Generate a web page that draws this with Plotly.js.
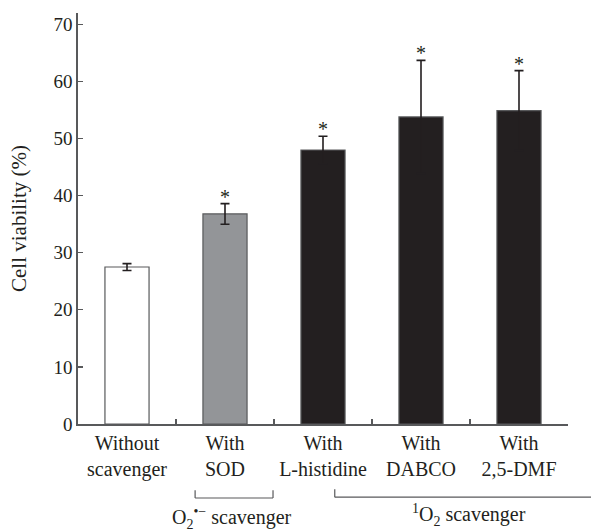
<!DOCTYPE html>
<html>
<head>
<meta charset="utf-8">
<script src="https://cdn.plot.ly/plotly-3.0.1.min.js"></script>
<style>html,body{margin:0;padding:0;background:#fff;}#chart{width:591px;height:531px;}</style>
</head>
<body>
<div id="chart"></div>
<script>
const categories = ["Without<br>scavenger", "With<br>SOD", "With<br>L-histidine", "With<br>DABCO", "With<br>2,5-DMF"];
const viability = [27.5, 36.8, 48.0, 53.8, 54.9];
const errors = [0.6, 1.8, 2.4, 9.9, 7.0];
const barColors = ["#ffffff", "#939598", "#231f20", "#231f20", "#231f20"];
const significant = ["", "*", "*", "*", "*"];
const groupLabels = ["O<sub>2</sub><sup>•−</sup> scavenger", "<sup>1</sup>O<sub>2</sub> scavenger"];

const serif = "Liberation Serif, Times New Roman, serif";
const ink = "#231f20";
const axisGray = "#58595b";

const trace = {
  type: "bar",
  x: categories,
  y: viability,
  width: 0.45,
  marker: { color: barColors, line: { color: axisGray, width: 1.2 } },
  error_y: { type: "data", array: errors, visible: true, color: ink, thickness: 1.6, width: 4.5 },
  hoverinfo: "none"
};

const annotations = [];
categories.forEach((c, i) => {
  if (significant[i]) {
    annotations.push({
      x: c, y: viability[i] + errors[i], xref: "x", yref: "y",
      text: significant[i], showarrow: false, yanchor: "bottom", yshift: -6,
      font: { family: serif, size: 20, color: ink }
    });
  }
});

annotations.push({
  x: 0.315, y: -0.229, xref: "paper", yref: "paper", yanchor: "middle", xanchor: "center",
  text: groupLabels[0], showarrow: false,
  font: { family: serif, size: 20, color: ink }
});
annotations.push({
  x: 0.798, y: -0.221, xref: "paper", yref: "paper", yanchor: "middle", xanchor: "center",
  text: groupLabels[1], showarrow: false,
  font: { family: serif, size: 20, color: ink }
});

const lineStyle = { color: axisGray, width: 1.2 };
const shapes = [
  { type: "line", xref: "paper", yref: "paper", x0: 0.239, x1: 0.398, y0: -0.180, y1: -0.180, line: lineStyle },
  { type: "line", xref: "paper", yref: "paper", x0: 0.239, x1: 0.239, y0: -0.180, y1: -0.161, line: lineStyle },
  { type: "line", xref: "paper", yref: "paper", x0: 0.398, x1: 0.398, y0: -0.180, y1: -0.161, line: lineStyle },
  { type: "line", xref: "paper", yref: "paper", x0: 0.524, x1: 1.05, y0: -0.178, y1: -0.178, line: lineStyle },
  { type: "line", xref: "paper", yref: "paper", x0: 0.524, x1: 0.524, y0: -0.178, y1: -0.159, line: lineStyle }
];

const layout = {
  width: 591, height: 531,
  margin: { l: 78, r: 23, t: 13, b: 107 },
  paper_bgcolor: "#fff", plot_bgcolor: "#fff",
  showlegend: false,
  font: { family: serif, size: 19, color: ink },
  xaxis: {
    type: "category",
    tickson: "boundaries",
    ticks: "inside", ticklen: 5, tickwidth: 1.2, tickcolor: axisGray,
    showline: true, linecolor: axisGray, linewidth: 1.6,
    showgrid: false, zeroline: false,
    tickfont: { family: serif, size: 20, color: ink },
    fixedrange: true
  },
  yaxis: {
    range: [0, 72],
    tickvals: [0, 10, 20, 30, 40, 50, 60, 70],
    ticks: "inside", ticklen: 5, tickwidth: 1.2, tickcolor: axisGray,
    showline: true, linecolor: axisGray, linewidth: 1.6,
    showgrid: false, zeroline: false,
    tickfont: { family: serif, size: 19, color: ink },
    title: { text: "Cell viability (%)", font: { family: serif, size: 21, color: ink }, standoff: 21 },
    fixedrange: true
  },
  annotations: annotations,
  shapes: shapes
};

Plotly.newPlot("chart", [trace], layout, { displayModeBar: false, staticPlot: true });
</script>
</body>
</html>
